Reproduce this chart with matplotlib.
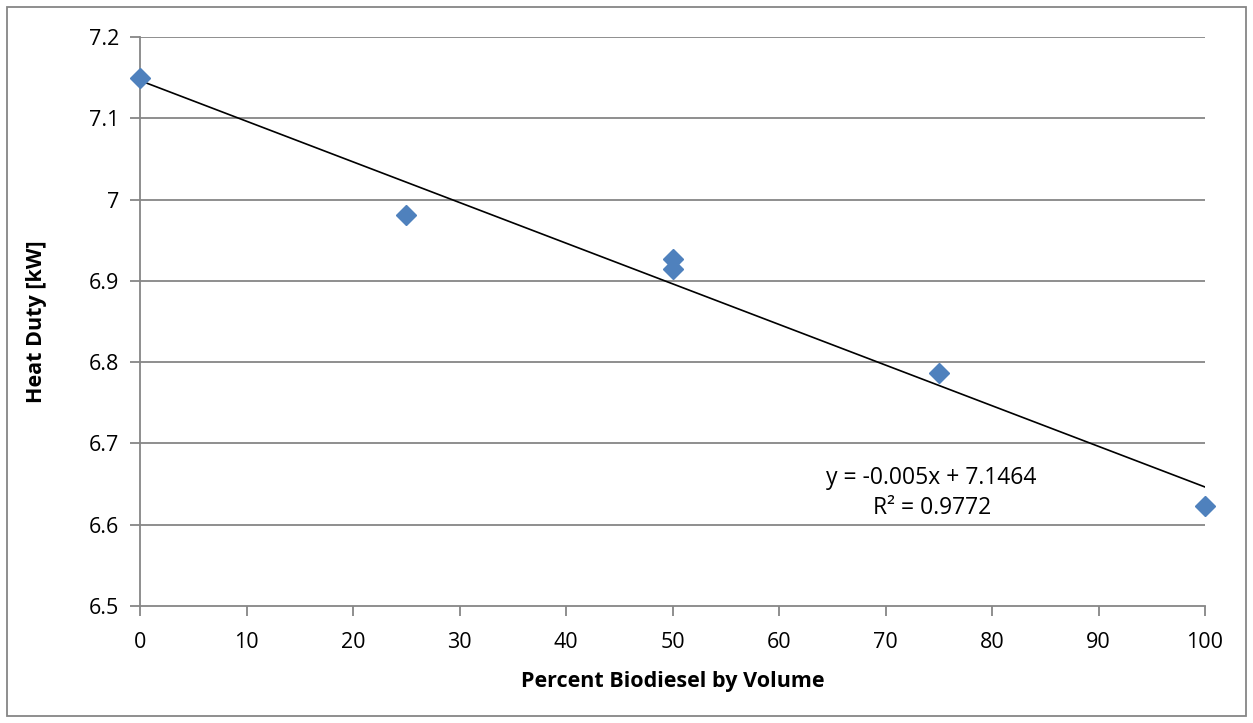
import matplotlib
matplotlib.use("Agg")
import matplotlib.pyplot as plt
import numpy as np
from matplotlib.patches import Rectangle

plt.rcParams['font.family'] = ['Open Sans', 'DejaVu Sans']

percent = [0, 25, 50, 50, 75, 100]
heat_duty = [7.149, 6.981, 6.927, 6.915, 6.787, 6.623]
slope = -0.005
intercept = 7.1464
r2 = 0.9772
xticks = [0, 10, 20, 30, 40, 50, 60, 70, 80, 90, 100]
yticks = [6.5, 6.6, 6.7, 6.8, 6.9, 7.0, 7.1, 7.2]
ytick_labels = ['6.5', '6.6', '6.7', '6.8', '6.9', '7', '7.1', '7.2']

W, H = 1253, 723
fig = plt.figure(figsize=(W / 100, H / 100), dpi=100)
ax = fig.add_axes([140 / W, 1 - 606 / H, (1205 - 140) / W, (606 - 37) / H])

grid_c = '#868686'
for y in yticks[1:]:
    ax.axhline(y, color=grid_c, lw=1.3, zorder=1)

tx = np.array([0, 100])
ax.plot(tx, slope * tx + intercept, color='black', lw=1.2, zorder=3)
ax.plot(percent, heat_duty, linestyle='none', marker='D', ms=10,
        color='#4F81BD', markeredgecolor='#4F81BD', zorder=4, clip_on=False)

ax.set_xlim(0, 100)
ax.set_ylim(6.5, 7.2)
ax.set_xticks(xticks)
ax.set_yticks(yticks)
ax.set_yticklabels(ytick_labels)
for s in ['top', 'right']:
    ax.spines[s].set_visible(False)
for s in ['left', 'bottom']:
    ax.spines[s].set_color(grid_c)
    ax.spines[s].set_linewidth(1.3)
ax.tick_params(axis='both', direction='out', length=7, width=1.3,
               color=grid_c, labelsize=15.5, labelcolor='black')
ax.tick_params(axis='x', pad=12)
ax.tick_params(axis='y', pad=8)

ax.set_xlabel('Percent Biodiesel by Volume', fontsize=15.5, fontweight='bold', labelpad=13)
ax.set_ylabel('Heat Duty [kW]', fontsize=15.5, fontweight='bold', labelpad=30)

fig.text(931 / W, 1 - 478 / H, f'y = {slope}x + {intercept}', fontsize=16.5,
         ha='center', va='center')
fig.text(932 / W, 1 - 508 / H, f'R² = {r2}', fontsize=16.5,
         ha='center', va='center')

fig.patches.append(Rectangle((7 / W, 7 / H), (W - 14) / W, (H - 14) / H,
                             transform=fig.transFigure, fill=False,
                             edgecolor='#868686', lw=1.3))

fig.savefig('out.png', dpi=100, facecolor='white')
